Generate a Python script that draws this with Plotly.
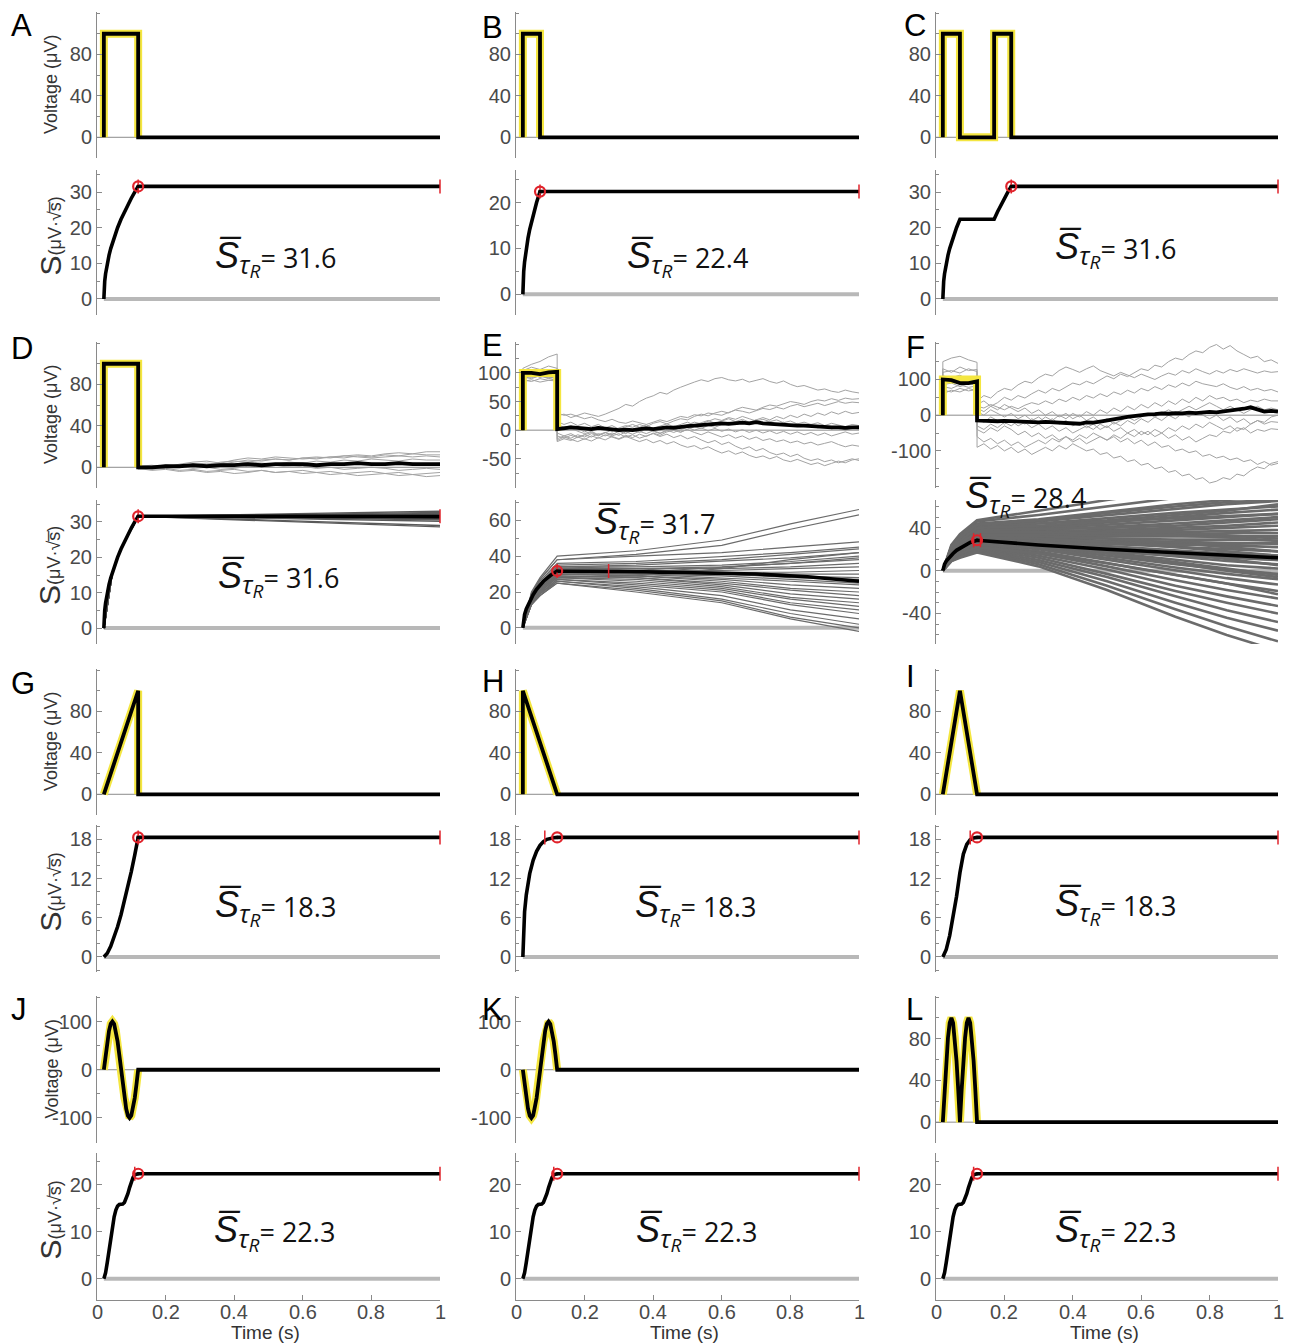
import plotly.graph_objects as go

FIG_W, FIG_H = 1293, 1344

# ---------------------------------------------------------------------------
# Axis placement (pixels): three columns, four rows of (voltage, S) pairs
# ---------------------------------------------------------------------------
COLS_PX = [(97, 440), (516, 859), (936, 1278)]
ROWS_PX = [((12, 158), (170, 315)),
           ((342, 488), (500, 644)),
           ((669, 815), (825, 972)),
           ((996, 1143), (1153, 1300))]

# ---------------------------------------------------------------------------
# Clean signals (voltage, µV) – only the stimulus window, tail is zero to 1 s
# ---------------------------------------------------------------------------
V_T_A = [0.02, 0.02, 0.12, 0.12]
V_A = [0, 100, 100, 0]
V_T_B = [0.02, 0.02, 0.07, 0.07]
V_B = [0, 100, 100, 0]
V_T_C = [0.02, 0.02, 0.07, 0.07, 0.17, 0.17, 0.22, 0.22]
V_C = [0, 100, 100, 0, 0, 100, 100, 0]
V_T_G = [0.02, 0.12, 0.12]
V_G = [0, 100, 0]
V_T_H = [0.02, 0.02, 0.12]
V_H = [0, 100, 0]
V_T_I = [0.02, 0.07, 0.12]
V_I = [0, 100, 0]
V_T_SINE = [0.02, 0.025, 0.03, 0.035, 0.04, 0.045, 0.05, 0.055, 0.06, 0.065, 0.07,
            0.075, 0.08, 0.085, 0.09, 0.095, 0.10, 0.105, 0.11, 0.115, 0.12]
V_J = [0, 30.9, 58.8, 80.9, 95.1, 100, 95.1, 80.9, 58.8, 30.9, 0,
       -30.9, -58.8, -80.9, -95.1, -100, -95.1, -80.9, -58.8, -30.9, 0]
V_K = [0, -30.9, -58.8, -80.9, -95.1, -100, -95.1, -80.9, -58.8, -30.9, 0,
       30.9, 58.8, 80.9, 95.1, 100, 95.1, 80.9, 58.8, 30.9, 0]
V_L = [0, 30.9, 58.8, 80.9, 95.1, 100, 95.1, 80.9, 58.8, 30.9, 0,
       30.9, 58.8, 80.9, 95.1, 100, 95.1, 80.9, 58.8, 30.9, 0]

# Ideal pulse used as template in the noisy panels
TEMPLATE_T = [0.02, 0.02, 0.12, 0.12]
TEMPLATE_V = [0, 100, 100, 0]

# ---------------------------------------------------------------------------
# Noisy recordings (D, E, F): pulse samples then post-stimulus samples
# ---------------------------------------------------------------------------
PULSE_T = [0.02, 0.02, 0.045, 0.07, 0.095, 0.12]

WALK_T_D = [0.12, 0.16, 0.20, 0.24, 0.28, 0.32, 0.36, 0.40, 0.44, 0.48, 0.52, 0.56,
            0.60, 0.64, 0.68, 0.72, 0.76, 0.80, 0.84, 0.88, 0.92, 0.96, 1.00]
WALK_T_EF = [0.12, 0.14, 0.16, 0.18, 0.20, 0.22, 0.24, 0.26, 0.28, 0.30, 0.32, 0.34,
             0.36, 0.38, 0.40, 0.42, 0.44, 0.46, 0.48, 0.50, 0.52, 0.54, 0.56, 0.58,
             0.60, 0.62, 0.64, 0.66, 0.68, 0.70, 0.72, 0.74, 0.76, 0.78, 0.80, 0.82,
             0.84, 0.86, 0.88, 0.90, 0.92, 0.94, 0.96, 0.98, 1.00]

D_PULSES = [[101, 99, 102, 100, 101], [99, 101, 98, 100, 99], [102, 100, 101, 99, 100],
            [98, 100, 99, 101, 100], [100, 102, 100, 98, 99], [101, 100, 99, 102, 101],
            [99, 98, 100, 101, 100], [100, 101, 102, 100, 99]]
D_WALKS = [
    [0, -1, 1, 2, 3, 2, 5, 6, 5, 7, 8, 7, 9, 10, 9, 11, 12, 11, 13, 14, 13, 15, 15],
    [1, 2, 0, 3, 5, 6, 4, 7, 9, 8, 10, 9, 8, 9, 10, 11, 10, 9, 10, 11, 10, 11, 10],
    [-1, 0, 2, 1, 3, 2, 4, 3, 5, 4, 3, 5, 4, 6, 5, 7, 6, 8, 7, 6, 8, 7, 7],
    [-2, -1, 0, 1, 0, 2, 1, 3, 2, 1, 2, 0, 1, -1, 0, -2, -1, 0, -1, -3, -2, -1, -2],
    [0, -2, -1, -3, -2, -4, -3, -2, -4, -3, -5, -4, -3, -5, -4, -6, -5, -4, -6, -5, -7, -6, -5],
    [-1, -3, -2, -4, -3, -5, -4, -6, -5, -3, -5, -4, -6, -5, -7, -6, -8, -7, -6, -8, -7, -9, -8],
    [1, 0, 2, 1, -1, 0, -2, -1, 1, 0, 2, 1, 3, 2, 4, 3, 5, 4, 3, 5, 4, 3, 4],
    [0, 1, 2, 1, 3, 4, 3, 5, 7, 6, 8, 7, 9, 8, 10, 9, 11, 10, 12, 11, 13, 12, 12],
]
D_MEAN_PULSE = [100, 100, 100, 100, 100]
D_MEAN_WALK = [0, 0, 1, 1, 2, 1, 2, 2, 3, 2, 3, 3, 3, 2, 3, 3, 4, 3, 3, 4, 3, 3, 3]

E_PULSES = [[108, 115, 120, 128, 133], [95, 98, 92, 96, 97], [88, 85, 90, 87, 86],
            [100, 104, 99, 103, 101], [90, 94, 96, 92, 95], [96, 92, 95, 90, 93],
            [104, 110, 106, 112, 108], [85, 88, 84, 87, 90], [98, 96, 100, 97, 99],
            [93, 90, 95, 91, 94]]
E_WALKS = [
    [25, 28, 22, 26, 30, 27, 24, 28, 33, 38, 45, 42, 50, 56, 60, 66, 63, 70, 75, 80, 84, 88, 85,
     90, 92, 88, 86, 89, 84, 87, 90, 85, 82, 86, 80, 76, 78, 74, 70, 72, 68, 66, 70, 67, 65],
    [10, 5, 8, 2, -3, 2, 6, 3, -2, 4, 8, 5, 10, 6, 12, 15, 11, 16, 20, 18, 24, 28, 25, 30, 33,
     30, 36, 40, 38, 35, 40, 44, 42, 46, 50, 48, 45, 50, 53, 51, 55, 52, 56, 54, 55],
    [30, 26, 28, 24, 20, 23, 18, 15, 19, 14, 12, 16, 13, 10, 14, 18, 15, 20, 24, 22, 27, 25, 30,
     28, 26, 31, 35, 33, 30, 34, 38, 36, 40, 37, 42, 45, 41, 44, 47, 43, 46, 50, 47, 49, 48],
    [-5, -10, -6, -12, -8, -4, -9, -5, 0, -3, 2, -2, 3, 6, 2, -1, 4, 8, 5, 10, 14, 11, 16, 20,
     17, 22, 19, 24, 20, 16, 19, 15, 18, 13, 16, 11, 14, 10, 13, 8, 12, 9, 6, 10, 8],
    [-15, -10, -14, -8, -12, -6, -10, -4, -8, -2, -6, 0, -4, 2, -2, -6, -1, 3, -3, 1, -4, -8,
     -3, -7, -12, -8, -14, -10, -16, -12, -18, -15, -20, -17, -22, -19, -24, -21, -26, -23,
     -20, -25, -29, -26, -28],
    [-20, -15, -18, -12, -16, -10, -14, -8, -12, -16, -11, -15, -20, -16, -22, -18, -24, -20,
     -26, -30, -27, -33, -29, -35, -40, -36, -42, -38, -44, -48, -45, -50, -46, -52, -55, -51,
     -56, -60, -57, -62, -58, -54, -57, -52, -50],
    [5, 0, 4, -2, -6, -2, -8, -4, -10, -6, -12, -8, -14, -10, -6, -11, -7, -13, -9, -15, -11,
     -17, -22, -18, -25, -21, -28, -33, -29, -36, -32, -39, -43, -40, -46, -42, -49, -53, -50,
     -55, -52, -57, -54, -50, -53],
    [-18, -12, -16, -20, -15, -19, -13, -17, -11, -15, -9, -13, -7, -11, -5, -9, -3, 0, -4, 2,
     6, 3, 8, 5, 10, 14, 10, 16, 12, 18, 22, 18, 24, 20, 26, 22, 28, 24, 30, 26, 32, 28, 33, 29, 31],
    [15, 10, 14, 8, 12, 6, 10, 4, 8, 2, 6, 10, 5, 9, 3, 7, 11, 6, 10, 14, 9, 13, 17, 12, 16, 20,
     15, 19, 14, 18, 12, 16, 10, 14, 8, 12, 6, 10, 4, 8, 2, 6, 0, 4, 2],
    [-10, -14, -9, -13, -8, -12, -6, -10, -5, -9, -3, -7, -2, -6, -1, -5, 0, -4, 1, 5, 0, 4, -1,
     3, -2, 2, -3, 1, -4, 0, -5, -1, -6, -2, -7, -3, -8, -4, -9, -5, -10, -6, -3, -7, -5],
]
E_MEAN_PULSE = [100, 100, 98, 101, 102]
E_MEAN_WALK = [2, 3, 5, 4, 3, 2, 4, 3, 1, 0, 1, 0, 2, 3, 2, 4, 5, 4, 6, 7, 8, 9, 10, 11, 12,
               11, 12, 13, 12, 14, 12, 11, 10, 9, 9, 8, 8, 7, 6, 6, 5, 5, 4, 5, 5]

F_PULSES = [[150, 160, 165, 155, 148], [120, 125, 118, 130, 122], [100, 95, 105, 98, 102],
            [85, 90, 80, 88, 84], [70, 65, 75, 68, 72], [110, 105, 112, 100, 108],
            [60, 70, 65, 75, 68], [95, 100, 90, 98, 94], [80, 75, 85, 78, 82],
            [130, 120, 135, 125, 128]]
F_WALKS = [
    [30, 40, 25, 35, 50, 42, 55, 48, 60, 70, 62, 75, 68, 80, 90, 85, 95, 88, 100, 110, 102, 115,
     108, 120, 130, 125, 140, 135, 150, 160, 155, 170, 180, 175, 190, 198, 185, 195, 180, 170,
     160, 165, 150, 155, 145],
    [40, 55, 48, 65, 75, 70, 85, 95, 90, 105, 115, 110, 125, 135, 128, 120, 130, 138, 125, 118,
     110, 120, 112, 105, 115, 108, 100, 110, 118, 112, 125, 118, 130, 122, 115, 125, 118, 128,
     122, 130, 125, 118, 124, 120, 122],
    [25, 20, 30, 22, 15, 25, 18, 28, 35, 30, 40, 32, 45, 38, 50, 42, 55, 48, 60, 52, 65, 58, 70,
     62, 75, 68, 80, 72, 85, 78, 90, 82, 95, 88, 85, 80, 88, 78, 72, 80, 70, 75, 68, 72, 65],
    [-30, -40, -25, -35, -20, -30, -15, -25, -10, -20, -5, -15, 0, -10, 5, -5, 10, 0, 15, 5, 20,
     10, 25, 15, 30, 20, 35, 25, 40, 30, 45, 35, 50, 40, 55, 45, 50, 40, 45, 35, 42, 38, 45, 40, 40],
    [20, 10, 25, 15, 30, 20, 10, 20, 5, 15, 0, 10, -5, 5, -10, 0, -15, -5, -20, -10, -25, -15,
     -5, -15, -5, 5, -5, 5, 15, 5, 15, 25, 15, 25, 35, 25, 15, 25, 15, 5, 15, 25, 15, 20, 15],
    [-10, -20, -5, -15, -25, -15, -30, -20, -35, -25, -40, -30, -45, -35, -50, -40, -30, -40,
     -25, -35, -20, -30, -15, -25, -10, -20, -5, -15, 0, -10, 5, -5, 10, 0, -10, 0, -15, -5,
     -20, -10, -25, -15, -25, -18, -20],
    [-60, -75, -65, -80, -70, -85, -75, -90, -80, -70, -80, -65, -75, -60, -70, -55, -65, -50,
     -60, -70, -60, -75, -65, -80, -70, -85, -75, -90, -85, -100, -95, -105, -100, -115, -110,
     -120, -115, -125, -120, -130, -125, -138, -130, -140, -135],
    [-90, -80, -95, -85, -100, -90, -105, -95, -110, -100, -90, -100, -85, -95, -80, -90, -100,
     -95, -110, -105, -120, -115, -130, -125, -140, -135, -150, -145, -160, -155, -170, -165,
     -180, -175, -190, -185, -175, -180, -165, -170, -155, -145, -150, -135, -130],
    [-40, -50, -35, -45, -30, -40, -55, -45, -60, -50, -65, -55, -70, -60, -75, -65, -80, -70,
     -60, -70, -55, -65, -50, -60, -45, -55, -40, -50, -35, -45, -30, -40, -25, -35, -20, -30,
     -40, -30, -45, -35, -50, -40, -45, -38, -40],
    [10, 0, 15, 5, -5, 5, -10, 0, -15, -5, -20, -10, -25, -15, -30, -20, -35, -25, -40, -30, -45,
     -35, -50, -40, -55, -45, -60, -50, -65, -55, -70, -60, -75, -65, -55, -60, -45, -50, -35,
     -40, -25, -15, -20, -5, 0],
]
F_MEAN_PULSE = [100, 98, 90, 90, 95]
F_MEAN_WALK = [-15, -16, -17, -17, -16, -17, -18, -19, -18, -20, -19, -20, -21, -22, -25, -24,
               -20, -21, -18, -14, -12, -8, -5, -2, 0, 2, 3, 5, 4, 6, 5, 7, 6, 8, 9, 8, 10, 12,
               14, 18, 22, 17, 10, 12, 10]

# ---------------------------------------------------------------------------
# Cumulative S (µV·√s) – mean / single-signal curves
# ---------------------------------------------------------------------------
S_T_A = [0.02, 0.021, 0.0225, 0.025, 0.03, 0.035, 0.04, 0.05, 0.06, 0.07, 0.08, 0.09, 0.10,
         0.11, 0.12, 1.0]
S_A = [0, 3.16, 5.0, 7.07, 10.0, 12.25, 14.14, 17.32, 20.0, 22.36, 24.49, 26.46, 28.28, 30.0,
       31.6, 31.6]
S_T_B = [0.02, 0.021, 0.0225, 0.025, 0.03, 0.035, 0.04, 0.05, 0.06, 0.07, 1.0]
S_B = [0, 3.16, 5.0, 7.07, 10.0, 12.25, 14.14, 17.32, 20.0, 22.4, 22.4]
S_T_C = [0.02, 0.021, 0.0225, 0.025, 0.03, 0.035, 0.04, 0.05, 0.06, 0.07, 0.17, 0.18, 0.19,
         0.20, 0.21, 0.22, 1.0]
S_C = [0, 3.16, 5.0, 7.07, 10.0, 12.25, 14.14, 17.32, 20.0, 22.36, 22.36, 24.49, 26.46, 28.28,
       30.0, 31.6, 31.6]
S_T_D = [0.02, 0.021, 0.0225, 0.025, 0.03, 0.035, 0.04, 0.05, 0.06, 0.07, 0.08, 0.09, 0.10,
         0.11, 0.12, 0.5, 1.0]
S_D = [0, 3.16, 5.0, 7.07, 10.0, 12.25, 14.14, 17.32, 20.0, 22.36, 24.49, 26.46, 28.28, 30.0,
       31.6, 31.6, 31.5]
S_T_E = [0.02, 0.022, 0.025, 0.03, 0.04, 0.05, 0.06, 0.08, 0.10, 0.12, 0.3, 0.5, 0.7, 0.85, 1.0]
S_E = [0, 4.5, 7.5, 10.5, 15, 18.5, 21.5, 26, 29.2, 31.7, 31.5, 31, 30, 28.5, 26]
S_T_F = [0.02, 0.022, 0.025, 0.03, 0.04, 0.05, 0.06, 0.08, 0.10, 0.12, 0.3, 0.5, 0.7, 0.85, 1.0]
S_F = [0, 3.5, 6, 9, 13, 16, 19, 23, 26.3, 28.4, 24, 20, 16.5, 14, 12]
S_T_G = [0.02, 0.03, 0.04, 0.05, 0.06, 0.07, 0.08, 0.09, 0.10, 0.11, 0.12, 1.0]
S_G = [0, 0.58, 1.63, 3.0, 4.62, 6.46, 8.49, 10.69, 13.07, 15.59, 18.3, 18.3]
S_T_H = [0.02, 0.0225, 0.025, 0.03, 0.035, 0.04, 0.05, 0.06, 0.07, 0.08, 0.09, 0.10, 0.11,
         0.12, 1.0]
S_H = [0, 4.94, 6.9, 9.51, 11.35, 12.76, 14.8, 16.17, 17.08, 17.67, 18.01, 18.19, 18.25, 18.3,
       18.3]
S_T_I = [0.02, 0.03, 0.04, 0.05, 0.06, 0.07, 0.08, 0.09, 0.10, 0.11, 0.12, 1.0]
S_I = [0, 1.15, 3.27, 6.0, 9.24, 12.91, 15.75, 17.24, 17.96, 18.22, 18.3, 18.3]
S_T_SINE = [0.02, 0.025, 0.03, 0.035, 0.04, 0.045, 0.05, 0.055, 0.06, 0.065, 0.07, 0.075,
            0.08, 0.085, 0.09, 0.095, 0.10, 0.105, 0.11, 0.115, 0.12, 1.0]
S_SINE = [0, 1.27, 3.49, 6.10, 8.75, 11.18, 13.17, 14.59, 15.42, 15.76, 15.81, 15.86, 16.19,
          16.95, 18.07, 19.36, 20.58, 21.51, 22.09, 22.3, 22.3, 22.3]

# Individual-trial S curves in the noisy panels
S_T_D_TRIALS = [0.02, 0.045, 0.07, 0.12, 0.5, 1.0]
S_D_TRIALS = [
    [0, 15.8, 22.4, 31.6, 32.2, 33.0], [0, 15.8, 22.4, 31.6, 32.0, 32.7],
    [0, 15.8, 22.4, 31.6, 31.9, 32.4], [0, 15.8, 22.4, 31.6, 31.8, 32.1],
    [0, 15.8, 22.4, 31.6, 31.7, 31.9], [0, 15.8, 22.4, 31.6, 31.6, 31.6],
    [0, 15.8, 22.4, 31.6, 31.5, 31.3], [0, 15.8, 22.4, 31.6, 31.3, 31.0],
    [0, 15.8, 22.4, 31.6, 31.2, 30.6], [0, 15.8, 22.4, 31.6, 31.0, 30.2],
    [0, 15.8, 22.4, 31.6, 30.5, 29.0], [0, 15.8, 22.4, 31.6, 30.3, 28.6],
]
S_T_E_TRIALS = [0.02, 0.045, 0.07, 0.12, 0.35, 0.6, 0.8, 1.0]
S_E_TRIALS = [
    [0, 20, 28, 40, 43, 49, 58, 66], [0, 19, 27, 38, 41, 46, 55, 63],
    [0, 19, 27, 38, 40, 42, 45, 48], [0, 18, 26, 36, 37, 40, 42, 45],
    [0, 18, 25, 35, 36, 38, 41, 44], [0, 17, 24, 34, 35, 37, 39, 42],
    [0, 17, 24, 34, 34, 35, 37, 40], [0, 16, 23, 33, 33, 34, 36, 38],
    [0, 16, 23, 33, 33, 33, 34, 36], [0, 16, 23, 32, 32, 32, 33, 34],
    [0, 16, 22, 32, 32, 31, 31, 32], [0, 16, 22, 31, 31, 31, 30, 30],
    [0, 15, 22, 31, 31, 30, 29, 28], [0, 15, 22, 31, 30, 29, 27, 25],
    [0, 15, 21, 30, 30, 28, 26, 24], [0, 15, 21, 30, 29, 27, 24, 22],
    [0, 15, 21, 30, 29, 26, 22, 20], [0, 15, 21, 29, 28, 25, 21, 18],
    [0, 14, 20, 29, 28, 24, 19, 16], [0, 14, 20, 28, 27, 23, 17, 14],
    [0, 14, 20, 28, 26, 22, 16, 12], [0, 14, 19, 27, 25, 21, 14, 10],
    [0, 13, 19, 27, 24, 20, 13, 8], [0, 13, 19, 26, 23, 18, 10, 5],
    [0, 13, 18, 26, 22, 16, 8, 2], [0, 13, 18, 25, 21, 15, 6, 0],
    [0, 13, 18, 25, 20, 14, 5, -2], [0, 14, 20, 28, 29, 33, 38, 42],
    [0, 15, 21, 30, 31, 34, 36, 39], [0, 17, 24, 34, 33, 30, 28, 27],
]
S_T_F_TRIALS = [0.02, 0.045, 0.07, 0.12, 0.3, 0.5, 0.7, 0.85, 1.0]
S_F_TRIALS = [
    [0, 24, 34, 47, 56, 66, 75, 80, 85], [0, 23, 33, 46, 52, 60, 68, 72, 76],
    [0, 22, 32, 44, 48, 55, 62, 66, 70], [0, 21, 30, 42, 46, 52, 58, 62, 65],
    [0, 20, 29, 40, 44, 49, 54, 57, 60], [0, 20, 28, 39, 41, 45, 50, 54, 57],
    [0, 19, 27, 38, 40, 43, 47, 50, 53], [0, 18, 26, 36, 38, 41, 44, 47, 50],
    [0, 18, 26, 36, 37, 38, 40, 42, 45], [0, 17, 25, 35, 36, 37, 38, 40, 42],
    [0, 17, 24, 34, 35, 36, 36, 37, 38], [0, 17, 24, 33, 33, 34, 34, 35, 35],
    [0, 16, 23, 32, 32, 32, 32, 32, 32], [0, 16, 23, 32, 31, 30, 29, 29, 28],
    [0, 16, 22, 31, 30, 28, 27, 26, 25], [0, 15, 22, 30, 29, 27, 25, 23, 22],
    [0, 15, 21, 30, 28, 25, 22, 20, 18], [0, 15, 21, 29, 27, 23, 19, 16, 14],
    [0, 14, 20, 28, 26, 21, 16, 13, 10], [0, 14, 20, 28, 25, 19, 13, 9, 6],
    [0, 14, 19, 27, 24, 17, 10, 5, 2], [0, 13, 19, 26, 22, 14, 6, 1, -3],
    [0, 13, 18, 26, 21, 12, 3, -3, -8], [0, 13, 18, 25, 20, 10, 0, -7, -13],
    [0, 12, 17, 24, 18, 7, -4, -12, -19], [0, 12, 17, 23, 16, 4, -9, -18, -26],
    [0, 11, 16, 22, 14, 1, -14, -24, -33], [0, 11, 15, 21, 12, -3, -19, -30, -40],
    [0, 10, 14, 20, 10, -6, -24, -37, -48], [0, 10, 14, 19, 8, -10, -30, -44, -56],
    [0, 9, 13, 18, 6, -14, -36, -52, -66], [0, 9, 12, 17, 4, -18, -43, -60, -75],
    [0, 21, 30, 42, 44, 47, 52, 56, 62], [0, 19, 27, 38, 39, 40, 42, 45, 48],
    [0, 17, 24, 34, 34, 33, 33, 33, 30], [0, 16, 23, 32, 32, 30, 26, 22, 18],
    [0, 15, 21, 30, 27, 22, 16, 11, 5], [0, 14, 20, 28, 24, 16, 7, 0, -6],
    [0, 13, 19, 26, 23, 16, 8, 2, -4], [0, 12, 17, 24, 22, 18, 14, 12, 10],
    [0, 18, 26, 36, 36, 35, 33, 31, 28], [0, 20, 28, 40, 42, 46, 49, 51, 53],
    [0, 22, 31, 43, 47, 54, 60, 64, 66], [0, 11, 16, 22, 16, 7, -4, -12, -22],
    [0, 15, 22, 31, 30, 27, 22, 18, 14], [0, 13, 18, 26, 26, 25, 24, 25, 26],
]

# Summary statistic shown in each panel and the reliability-window markers
STAT_LABELS = ["31.6", "22.4", "31.6", "31.6", "31.7", "28.4",
               "18.3", "18.3", "18.3", "22.3", "22.3", "22.3"]
PEAK_T = [0.12, 0.07, 0.22, 0.12, 0.12, 0.12, 0.12, 0.12, 0.12, 0.12, 0.12, 0.12]
CAP_T = [[0.12, 1.0], [0.07, 1.0], [0.22, 1.0], [0.12, 1.0], [0.12, 0.27], [0.11, 0.13],
         [0.12, 1.0], [0.084, 1.0], [0.10, 1.0], [0.11, 1.0], [0.11, 1.0], [0.11, 1.0]]

LETTERS = ["A", "B", "C", "D", "E", "F", "G", "H", "I", "J", "K", "L"]

# Time axis ticks (bottom row only)
TIME_TICKS = [0, 0.2, 0.4, 0.6, 0.8, 1]
TIME_TICK_TEXT = ["0", "0.2", "0.4", "0.6", "0.8", "1"]

# ---------------------------------------------------------------------------
# Styling
# ---------------------------------------------------------------------------
FONT = "Liberation Sans, Arial, sans-serif"
AXIS_GREY = "#8a8a8a"
TICK_TEXT = "#4a4a4a"
YELLOW = "#f4e640"
TRIAL_GREY = "#a3a3a3"
S_TRIAL_GREY = "#6b6b6b"
RED = "#e0232b"

# y ranges, major ticks and minor ticks for the voltage axes
V_AX = {
    "std": ([-20, 121], [0, 40, 80], [-20, 20, 60, 100, 120]),
    "E": ([-101, 154], [-50, 0, 50, 100], [-100, -75, -25, 25, 75, 125, 150]),
    "F": ([-204, 205], [-100, 0, 100], [-200, -150, -50, 50, 150, 200]),
    "JK": ([-152, 153], [-100, 0, 100], [-150, -50, 50, 150]),
}
S_AX = {
    "A": ([-4.5, 36.2], [0, 10, 20, 30], [5, 15, 25, 35]),
    "B": ([-4.5, 27.1], [0, 10, 20], [5, 15, 25]),
    "E": ([-9, 71.3], [0, 20, 40, 60], [10, 30, 50, 70]),
    "F": ([-68.5, 66], [-40, 0, 40], [-60, -50, -30, -20, -10, 10, 20, 30, 50, 60]),
    "G": ([-2.3, 20.2], [0, 6, 12, 18], [-2, 2, 4, 8, 10, 14, 16, 20]),
    "J": ([-4.5, 26.7], [0, 10, 20], [5, 15, 25]),
}
PANEL_V_AX = ["std", "std", "std", "std", "E", "F", "std", "std", "std", "JK", "JK", "std"]
PANEL_S_AX = ["A", "B", "A", "A", "E", "F", "G", "G", "G", "J", "J", "J"]

CLEAN_V = {0: (V_T_A, V_A), 1: (V_T_B, V_B), 2: (V_T_C, V_C), 6: (V_T_G, V_G),
           7: (V_T_H, V_H), 8: (V_T_I, V_I), 9: (V_T_SINE, V_J), 10: (V_T_SINE, V_K),
           11: (V_T_SINE, V_L)}
NOISY_V = {3: (D_PULSES, D_WALKS, WALK_T_D, D_MEAN_PULSE, D_MEAN_WALK),
           4: (E_PULSES, E_WALKS, WALK_T_EF, E_MEAN_PULSE, E_MEAN_WALK),
           5: (F_PULSES, F_WALKS, WALK_T_EF, F_MEAN_PULSE, F_MEAN_WALK)}
MEAN_S = [(S_T_A, S_A), (S_T_B, S_B), (S_T_C, S_C), (S_T_D, S_D), (S_T_E, S_E),
          (S_T_F, S_F), (S_T_G, S_G), (S_T_H, S_H), (S_T_I, S_I), (S_T_SINE, S_SINE),
          (S_T_SINE, S_SINE), (S_T_SINE, S_SINE)]
TRIAL_S = {3: (S_T_D_TRIALS, S_D_TRIALS, "#5a5a5a", 1.4),
           4: (S_T_E_TRIALS, S_E_TRIALS, S_TRIAL_GREY, 1.2),
           5: (S_T_F_TRIALS, S_F_TRIALS, S_TRIAL_GREY, 2.6)}

# Text positions (pixels): statistic label (left, middle) and panel letters (left, top)
STAT_PX = [(213, 257), (625, 257), (1053, 248), (216, 577), (592, 523), (963, 497),
           (213, 906), (633, 906), (1053, 905), (212, 1231), (634, 1231), (1053, 1231)]
LETTER_PX = [(9, 6), (480, 8), (902, 6), (9, 329), (480, 326), (904, 328),
             (9, 664), (480, 662), (904, 657), (9, 990), (480, 990), (904, 990)]


def names(n):
    sfx = "" if n == 1 else str(n)
    return "x" + sfx, "y" + sfx, "xaxis" + sfx, "yaxis" + sfx


def tick_txt(v):
    return str(int(v)) if float(v).is_integer() else str(v)


fig = go.Figure()


def add_line(n, x, y, color, width):
    xn, yn, _, _ = names(n)
    fig.add_trace(go.Scatter(x=x, y=y, mode="lines", xaxis=xn, yaxis=yn,
                             line=dict(color=color, width=width),
                             hoverinfo="skip", showlegend=False))


layout = {}
annotations = []


def px_x(px):
    return px / FIG_W


def px_y(py):
    return 1 - py / FIG_H


for p in range(12):
    row, col = divmod(p, 3)
    (vtop, vbot), (stop, sbot) = ROWS_PX[row]
    c0, c1 = COLS_PX[col]
    n_v, n_s = 2 * p + 1, 2 * p + 2

    # ---------------- voltage subplot ----------------
    add_line(n_v, [0, 1], [0, 0], "#8c8c8c", 1)
    if p in NOISY_V:
        pulses, walks, walk_t, mpulse, mwalk = NOISY_V[p]
        for pv, wv in zip(pulses, walks):
            add_line(n_v, PULSE_T + walk_t, [0] + pv + wv, TRIAL_GREY, 1)
        add_line(n_v, TEMPLATE_T, TEMPLATE_V, YELLOW, 8)
        add_line(n_v, PULSE_T + walk_t, [0] + mpulse + mwalk, "#000000", 3.8)
    else:
        vt, vv = CLEAN_V[p]
        add_line(n_v, vt, vv, YELLOW, 8)
        add_line(n_v, vt + [1.0], vv + [0], "#000000", 3.8)

    # ---------------- S subplot ----------------
    add_line(n_s, [0.02, 1], [0, 0], "#b8b8b8", 4)
    if p in TRIAL_S:
        tt, trials, tcol, tw = TRIAL_S[p]
        for tr in trials:
            add_line(n_s, tt, tr, tcol, tw)
    st, sv = MEAN_S[p]
    add_line(n_s, st, sv, "#000000", 3.6)

    stat_val = float(STAT_LABELS[p])
    xn, yn, _, _ = names(n_s)
    fig.add_trace(go.Scatter(x=CAP_T[p], y=[stat_val] * len(CAP_T[p]), mode="markers",
                             xaxis=xn, yaxis=yn, cliponaxis=False,
                             marker=dict(symbol="line-ns", size=10, color=RED,
                                         line=dict(color=RED, width=1.5)),
                             hoverinfo="skip", showlegend=False))
    fig.add_trace(go.Scatter(x=[PEAK_T[p]], y=[stat_val], mode="markers",
                             xaxis=xn, yaxis=yn, cliponaxis=False,
                             marker=dict(symbol="circle-open", size=10, color=RED,
                                         line=dict(color=RED, width=2.2)),
                             hoverinfo="skip", showlegend=False))
    fig.add_trace(go.Scatter(x=[PEAK_T[p]], y=[stat_val], mode="markers",
                             xaxis=xn, yaxis=yn, cliponaxis=False,
                             marker=dict(symbol="circle", size=3.5, color="#000000"),
                             hoverinfo="skip", showlegend=False))

    # ---------------- axes ----------------
    for n, (top, bot), spec, is_v in ((n_v, (vtop, vbot), V_AX[PANEL_V_AX[p]], True),
                                       (n_s, (stop, sbot), S_AX[PANEL_S_AX[p]], False)):
        xn, yn, xk, yk = names(n)
        rng, major, minor = spec
        bottom_x = (not is_v) and row == 3
        layout[xk] = dict(domain=[px_x(c0), px_x(c1)], range=[0, 1], anchor=yn,
                          showgrid=False, zeroline=False, fixedrange=True,
                          showline=bottom_x, linecolor=AXIS_GREY, linewidth=1,
                          ticks="inside" if bottom_x else "", ticklen=5,
                          tickcolor=AXIS_GREY, showticklabels=False,
                          tickmode="array", tickvals=TIME_TICKS)
        layout[yk] = dict(domain=[px_y(bot), px_y(top)], range=rng, anchor=xn,
                          showgrid=False, zeroline=False, fixedrange=True,
                          showline=True, linecolor=AXIS_GREY, linewidth=1,
                          ticks="inside", ticklen=5, tickcolor=AXIS_GREY,
                          tickmode="array", tickvals=major,
                          ticktext=[tick_txt(v) for v in major],
                          tickfont=dict(family=FONT, size=20, color=TICK_TEXT),
                          minor=dict(tickmode="array", tickvals=minor, ticks="inside",
                                     ticklen=3, tickcolor=AXIS_GREY, showgrid=False))
        if bottom_x:
            # time tick labels, placed on the time scale just under the axis line
            for tv, tt_txt in zip(TIME_TICKS, TIME_TICK_TEXT):
                annotations.append(dict(text=tt_txt, x=tv, xref=xn, y=px_y(1312),
                                        yref="paper", xanchor="center", yanchor="middle",
                                        showarrow=False,
                                        font=dict(family=FONT, size=20, color=TICK_TEXT)))

    # ---------------- text ----------------
    lx, ly = LETTER_PX[p]
    annotations.append(dict(text=LETTERS[p], x=px_x(lx), y=px_y(ly), xref="paper",
                            yref="paper", xanchor="left", yanchor="top", showarrow=False,
                            font=dict(family=FONT, size=31, color="#000000")))
    sx, sy = STAT_PX[p]
    annotations.append(dict(
        text=("<span style='font-size:36px'><i>S\u0305</i></span>"
              "<sub><span style='font-size:25px'><i>τ</i></span>"
              "<sub><span style='font-size:19px'><i>R</i></span></sub></sub>"
              f"<span style='font-size:27px'>= {STAT_LABELS[p]}</span>"),
        x=px_x(sx), y=px_y(sy), xref="paper", yref="paper", xanchor="left",
        yanchor="middle", showarrow=False,
        font=dict(family="Open Sans, sans-serif", size=27, color="#111111")))

    if col == 0:
        annotations.append(dict(text="Voltage (μV)", x=px_x(51), y=px_y((vtop + vbot) / 2),
                                xref="paper", yref="paper", xanchor="center",
                                yanchor="middle", textangle=-90, showarrow=False,
                                font=dict(family=FONT, size=18, color="#333333")))
        annotations.append(dict(
            text="<span style='font-size:30px'>S</span>(μV·√s\u0305)",
            x=px_x(50), y=px_y((stop + sbot) / 2 - 6), xref="paper", yref="paper",
            xanchor="center", yanchor="middle", textangle=-90, showarrow=False,
            font=dict(family=FONT, size=18, color="#333333")))
    if row == 3:
        annotations.append(dict(text="Time (s)", x=px_x((c0 + c1) / 2 - 3), y=px_y(1332),
                                xref="paper", yref="paper", xanchor="center",
                                yanchor="middle", showarrow=False,
                                font=dict(family=FONT, size=19, color="#333333")))

fig.update_layout(width=FIG_W, height=FIG_H, margin=dict(l=0, r=0, t=0, b=0),
                  paper_bgcolor="white", plot_bgcolor="white", showlegend=False,
                  annotations=annotations, **layout)

fig.write_html("out.html")
